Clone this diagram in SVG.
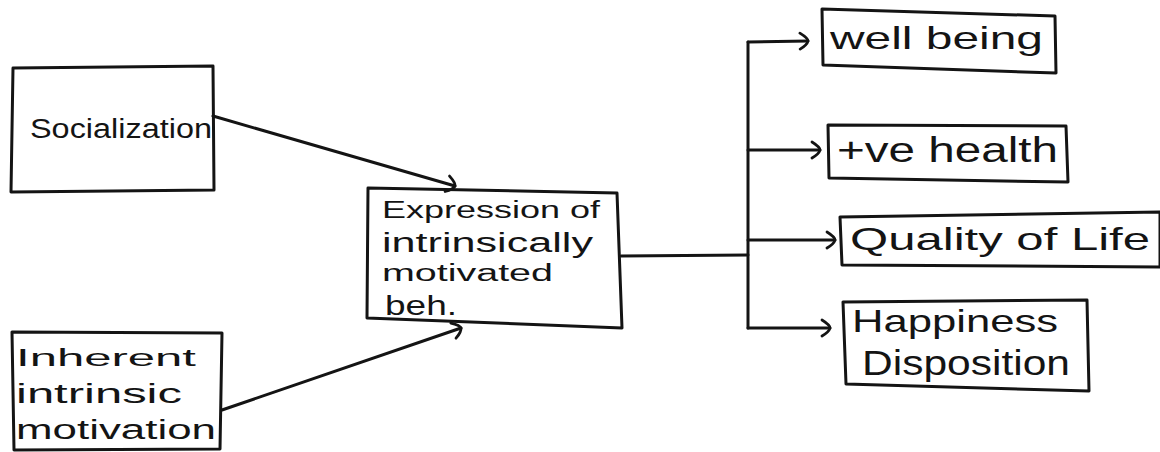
<svg xmlns="http://www.w3.org/2000/svg" width="1160" height="452" viewBox="0 0 1160 452">
  <defs>
    <style>
      .box { fill: none; stroke: #141414; stroke-width: 3; stroke-linejoin: round; }
      .link { fill: none; stroke: #141414; stroke-width: 3; stroke-linecap: round; stroke-linejoin: round; }
      .lbl { font-family: "Liberation Sans", "DejaVu Sans", sans-serif; fill: #141414; font-size: 27px; }
      .lbl-sm { font-size: 23px; }
      .lbl-lg { font-size: 32px; }
      .lbl-xl { font-size: 35px; }
    </style>
    <!-- open chevron head, drawn by hand -->
    <marker id="head" markerUnits="userSpaceOnUse" markerWidth="24" markerHeight="24" viewBox="-12 -12 24 24" refX="0" refY="0" orient="auto">
      <path d="M -8 -8 Q 0 -3 0 0 Q -1 4 -8 8" fill="none" stroke="#141414" stroke-width="2.8" stroke-linecap="round"/>
    </marker>
  </defs>
  <rect width="1160" height="452" fill="#ffffff"/>

  <!-- connectors -->
  <g id="connectors">
    <path class="link" d="M 213 116 L 455 186" marker-end="url(#head)"/>
    <path class="link" d="M 222 410 L 461 328" marker-end="url(#head)"/>
    <path class="link" d="M 621 256 L 748 255"/>
    <path class="link" d="M 748 42 L 748 328"/>
    <path class="link" d="M 748 42 L 808 41" marker-end="url(#head)"/>
    <path class="link" d="M 748 150 L 820 150" marker-end="url(#head)"/>
    <path class="link" d="M 748 240 L 835 240" marker-end="url(#head)"/>
    <path class="link" d="M 748 328 L 830 328" marker-end="url(#head)"/>
  </g>

  <g id="socialization">
    <path class="box" d="M 13 68 L 213 66 L 214 190 L 11 192 Z"/>
    <text class="lbl" x="30" y="138" textLength="182" lengthAdjust="spacingAndGlyphs">Socialization</text>
  </g>

  <g id="inherent-motivation">
    <path class="box" d="M 12 332 L 222 333 L 220 449 L 14 450 Z"/>
    <text class="lbl lbl-sm" x="16" y="366" textLength="180" lengthAdjust="spacingAndGlyphs">Inherent</text>
    <text class="lbl" x="16" y="403" textLength="166" lengthAdjust="spacingAndGlyphs">intrinsic</text>
    <text class="lbl" x="16" y="439" textLength="200" lengthAdjust="spacingAndGlyphs">motivation</text>
  </g>

  <g id="expression">
    <path class="box" d="M 368 188 L 617 193 L 622 328 L 367 318 Z"/>
    <text class="lbl lbl-sm" x="382" y="218" textLength="218" lengthAdjust="spacingAndGlyphs">Expression of</text>
    <text class="lbl" x="382" y="252" textLength="211" lengthAdjust="spacingAndGlyphs">intrinsically</text>
    <text class="lbl lbl-sm" x="382" y="281" textLength="171" lengthAdjust="spacingAndGlyphs">motivated</text>
    <text class="lbl" x="385" y="315" textLength="72" lengthAdjust="spacingAndGlyphs">beh.</text>
  </g>

  <g id="well-being">
    <path class="box" d="M 822 9 L 1055 16 L 1056 73 L 823 65 Z"/>
    <text class="lbl lbl-lg" x="830" y="49" textLength="213" lengthAdjust="spacingAndGlyphs">well being</text>
  </g>

  <g id="positive-health">
    <path class="box" d="M 828 125 L 1066 126 L 1068 182 L 829 178 Z"/>
    <text class="lbl lbl-xl" x="837" y="162" textLength="221" lengthAdjust="spacingAndGlyphs">+ve health</text>
  </g>

  <g id="quality-of-life">
    <path class="box" d="M 840 217 L 1160 212 L 1160 267 L 842 265 Z"/>
    <text class="lbl lbl-lg" x="850" y="250" textLength="300" lengthAdjust="spacingAndGlyphs">Quality of Life</text>
  </g>

  <g id="happiness-disposition">
    <path class="box" d="M 843 302 L 1087 300 L 1089 391 L 846 384 Z"/>
    <text class="lbl lbl-lg" x="852" y="332" textLength="206" lengthAdjust="spacingAndGlyphs">Happiness</text>
    <text class="lbl lbl-xl" x="862" y="375" textLength="208" lengthAdjust="spacingAndGlyphs">Disposition</text>
  </g>
</svg>
